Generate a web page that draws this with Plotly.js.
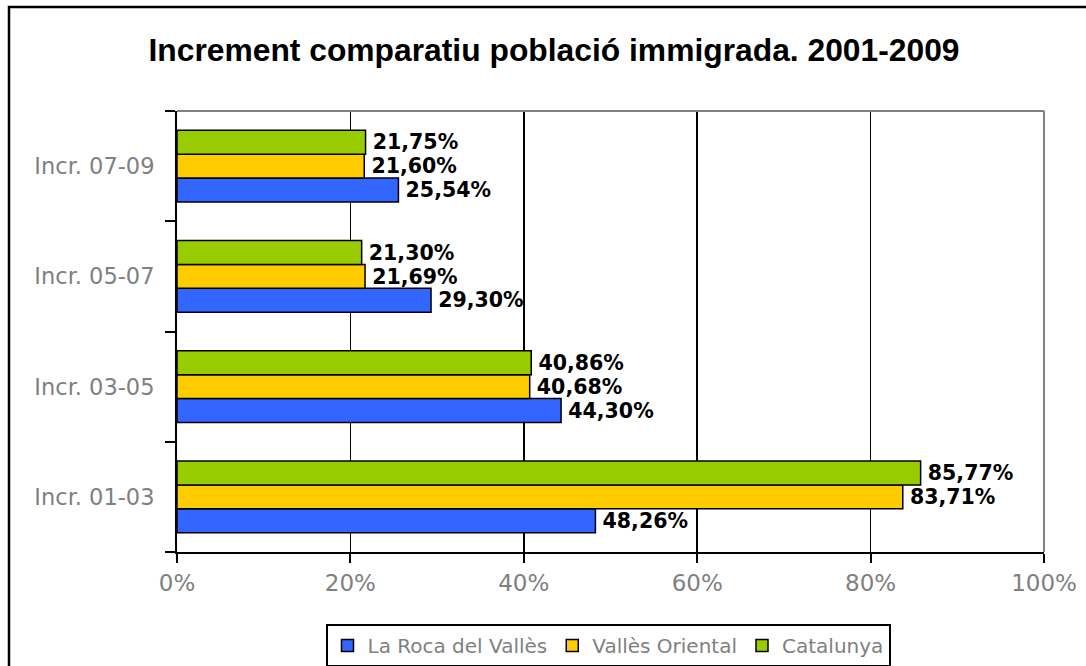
<!DOCTYPE html>
<html>
<head>
<meta charset="utf-8">
<script src="https://cdn.plot.ly/plotly-3.0.1.min.js"></script>
<style>html,body{margin:0;padding:0;background:#fff;}#chart{width:1086px;height:666px;}</style>
</head>
<body>
<div id="chart"></div>
<script>
const categories = ["Incr. 01-03", "Incr. 03-05", "Incr. 05-07", "Incr. 07-09"];
const laRoca = [48.26, 44.30, 29.30, 25.54];
const vallesOriental = [83.71, 40.68, 21.69, 21.60];
const catalunya = [85.77, 40.86, 21.30, 21.75];
const seriesNames = ["La Roca del Vallès", "Vallès Oriental", "Catalunya"];
const xTickVals = [0, 0.2, 0.4, 0.6, 0.8, 1.0];
const xTickText = ["0%", "20%", "40%", "60%", "80%", "100%"];

const colors = ["#3366FF", "#FFCC00", "#99CC00"];
const fmt = v => "\u2009" + v.toFixed(2).replace(".", ",") + "%";

const allSeries = [laRoca, vallesOriental, catalunya];
const traces = allSeries.map((vals, i) => ({
  type: "bar",
  orientation: "h",
  name: seriesNames[i],
  y: categories,
  x: vals.map(v => v / 100),
  text: vals.map(fmt),
  textposition: "outside",
  cliponaxis: false,
  textfont: {family: "DejaVu Sans", size: 21.5, color: "#000", weight: "bold"},
  marker: {color: colors[i], line: {color: "#000", width: 1.5}},
  hoverinfo: "skip"
}));

const layout = {
  width: 1086, height: 666,
  margin: {l: 177, r: 42, t: 111, b: 114},
  paper_bgcolor: "#fff", plot_bgcolor: "#fff",
  barmode: "group", bargap: 0.35, bargroupgap: 0,
  title: {
    text: "<b>Increment comparatiu població immigrada. 2001-2009</b>",
    font: {family: "Liberation Sans, Arial", size: 31.8, color: "#000"},
    x: 554 / 1086, xref: "container", xanchor: "center",
    y: 1 - 50 / 666, yref: "container", yanchor: "middle"
  },
  xaxis: {
    range: [0, 1], tickvals: xTickVals, ticktext: xTickText,
    showgrid: true, gridcolor: "#000", gridwidth: 1.5,
    showline: true, linecolor: "#000", linewidth: 2,
    ticks: "outside", ticklen: 9, tickwidth: 2, tickcolor: "#000",
    tickfont: {family: "DejaVu Sans", size: 23, color: "#808080"},
    zeroline: false, fixedrange: true, automargin: false
  },
  yaxis: {
    type: "category", categoryorder: "array", categoryarray: categories,
    range: [-0.5, 3.5],
    showgrid: false, showline: true, linecolor: "#000", linewidth: 2,
    ticks: "outside", tickson: "boundaries", ticklen: 10, tickwidth: 2, tickcolor: "#000",
    ticklabelstandoff: 16,
    tickfont: {family: "DejaVu Sans", size: 22.5, color: "#808080"},
    zeroline: false, fixedrange: true, automargin: false
  },
  legend: {
    orientation: "h", x: 608 / 1086, xref: "container", xanchor: "center",
    y: 1 - 624 / 666, yref: "container", yanchor: "top",
    bgcolor: "#fff", bordercolor: "#000", borderwidth: 2,
    font: {family: "DejaVu Sans", size: 20, color: "#808080"},
    traceorder: "normal", itemwidth: 30
  },
  shapes: [
    {type: "line", xref: "paper", yref: "paper", x0: 0, x1: 1, y0: 1, y1: 1, line: {color: "#808080", width: 2}, layer: "above"},
    {type: "line", xref: "paper", yref: "paper", x0: 1, x1: 1, y0: 0, y1: 1, line: {color: "#808080", width: 2}, layer: "above"},
    {type: "rect", xref: "paper", yref: "paper", x0: (9 - 177) / 867, x1: 1.3, y0: -0.5, y1: (552 - 7) / 441, line: {color: "#000", width: 2.5}, layer: "above"}
  ],
  showlegend: true
};

Plotly.newPlot("chart", traces, layout, {displayModeBar: false, staticPlot: true});
</script>
</body>
</html>
